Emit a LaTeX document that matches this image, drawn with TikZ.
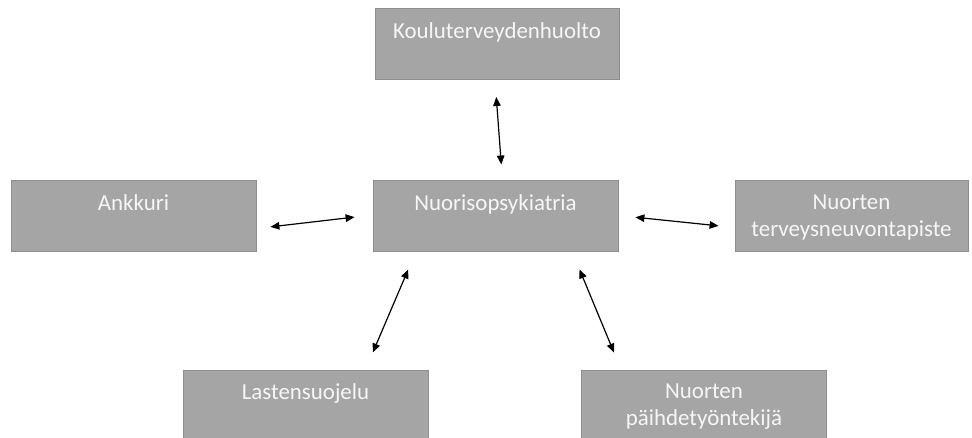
\documentclass[tikz,border=0pt]{standalone}
\usepackage{fontspec}
\setmainfont{Carlito}
\usetikzlibrary{arrows.meta}
\definecolor{boxFill}{HTML}{A5A5A5}
\definecolor{boxEdge}{HTML}{8E8E8E}
\definecolor{boxText}{HTML}{F6F6F6}
\newcommand{\boxtxt}[2]{\parbox[c][71pt][t]{#1pt}{\centering\vspace*{14pt}#2}}

\begin{document}
\begin{tikzpicture}[x=1pt, y=-1pt,
    unitbox/.style={draw=boxEdge, line width=1pt, fill=boxFill, text=boxText,
      inner sep=0pt, minimum height=71pt, font=\fontsize{22.9}{27}\selectfont},
    link/.style={{Triangle[length=9pt,width=7.5pt]}-{Triangle[length=9pt,width=7.5pt]},
      line width=1.2pt, black}]
  \useasboundingbox (0,0) rectangle (972,438);
  % boxes: name / centre x / centre y / width / text
  \foreach \nm/\px/\py/\w/\txt in
    {koulu/497/44/244/Kouluterveydenhuolto,
     ankkuri/133.5/216.5/245/Ankkuri,
     nuoriso/495.5/216.5/245/Nuorisopsykiatria,
     terveys/851.5/216.5/233/{Nuorten\\terveysneuvontapiste},
     lasten/305.5/405.5/245/Lastensuojelu,
     paihde/704/405.5/245/{Nuorten\\päihdetyöntekijä}} {
    \node[unitbox, minimum width=\w pt] (\nm) at (\px,\py) {\boxtxt{\w}{\txt}};
  }
  % connectors
  \draw[link, shorten <=17pt, shorten >=16pt]
    ([xshift=-2pt]koulu.south) -- ([xshift=7pt]nuoriso.north);
  \draw[link, shorten <=14pt, shorten >=18pt]
    ([yshift=-12pt]ankkuri.east) -- ([yshift=1.5pt]nuoriso.west);
  \draw[link, shorten <=17pt, shorten >=16pt]
    ([yshift=1pt]nuoriso.east) -- ([yshift=-11pt]terveys.west);
  \draw[link, shorten <=18.5pt, shorten >=18.5pt]
    ([xshift=-80pt]nuoriso.south) -- ([xshift=60pt]lasten.north);
  \draw[link, shorten <=18.3pt, shorten >=18.3pt]
    ([xshift=77pt]nuoriso.south) -- ([xshift=-83pt]paihde.north);
\end{tikzpicture}
\end{document}
